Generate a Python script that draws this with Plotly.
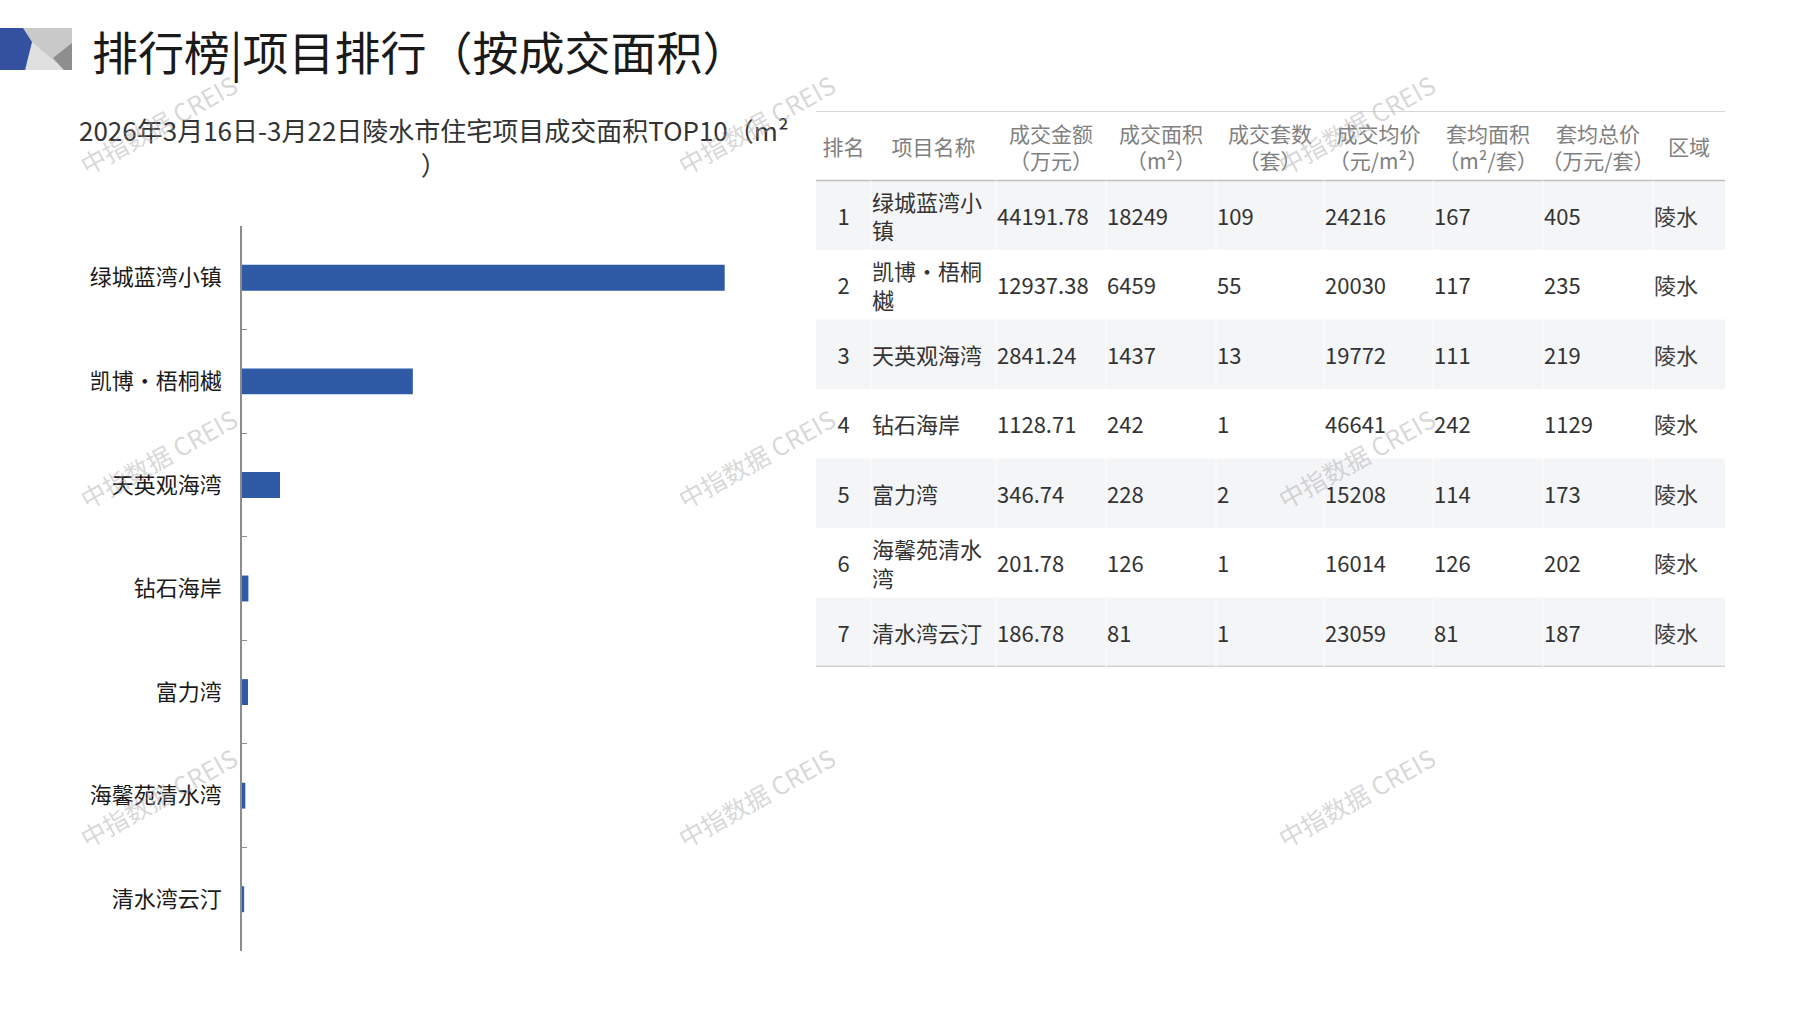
import plotly.graph_objects as go

# ---------------- data ----------------
ranks = [1, 2, 3, 4, 5, 6, 7]
names = ["绿城蓝湾小镇", "凯博•梧桐樾", "天英观海湾", "钻石海岸", "富力湾", "海馨苑清水湾", "清水湾云汀"]
amount = [44191.78, 12937.38, 2841.24, 1128.71, 346.74, 201.78, 186.78]   # 万元
area = [18249, 6459, 1437, 242, 228, 126, 81]                              # m²
units = [109, 55, 13, 1, 2, 1, 1]                                          # 套
avg_price = [24216, 20030, 19772, 46641, 15208, 16014, 23059]              # 元/m²
avg_area = [167, 117, 111, 242, 114, 126, 81]                              # m²/套
avg_total = [405, 235, 219, 1129, 173, 202, 187]                           # 万元/套
district = ["陵水", "陵水", "陵水", "陵水", "陵水", "陵水", "陵水"]
headers = ["排名", "项目名称", "成交金额<br>（万元）", "成交面积<br>（m²）", "成交套数<br>（套）",
           "成交均价<br>（元/m²）", "套均面积<br>（m²/套）", "套均总价<br>（万元/套）", "区域"]

page_title = "排行榜|项目排行（按成交面积）"
chart_title = "2026年3月16日-3月22日陵水市住宅项目成交面积TOP10（m²<br>）"
watermark = "中指数据 CREIS"

# ---------------- layout constants ----------------
W, H = 1797, 1010
FONT = "Noto Sans CJK SC"
BAR_COLOR = "#2f5aa6"
AXIS_COLOR = "#8c8c8c"
TEXT_DY = 0.06   # small downward nudge of table text within a row (row units)


def px(x):
    return x / W


def py(y):
    return 1 - y / H


col_widths = [55, 125, 110, 110, 108, 109, 110, 110, 72]
table_left, table_top, table_bottom = 816, 111, 667
col_edges = [0]
for w in col_widths:
    col_edges.append(col_edges[-1] + w)
table_total = col_edges[-1]
col_centers = [(col_edges[i] + col_edges[i + 1]) / 2 for i in range(len(col_widths))]
row_y = [r for r in ranks]  # row index (header at 0)


def wrap(s, n=5):
    return "<br>".join(s[i:i + n] for i in range(0, len(s), n))


fig = go.Figure()

# ---------------- bar chart ----------------
fig.add_trace(go.Bar(
    orientation="h", x=area, y=names, width=0.25,
    marker=dict(color=BAR_COLOR, line=dict(width=0)),
    xaxis="x", yaxis="y", hoverinfo="x+y", showlegend=False,
))

# ---------------- table ----------------
stripe_rows = [r for r in row_y if r % 2 == 1]
fig.add_trace(go.Bar(
    orientation="h", x=[table_total] * len(stripe_rows), y=stripe_rows, base=0, width=1,
    marker=dict(color="#f4f5f7", line=dict(width=0)),
    xaxis="x2", yaxis="y2", hoverinfo="skip", showlegend=False,
))

fig.add_trace(go.Scatter(
    x=col_centers, y=[TEXT_DY] * len(headers), text=headers, mode="text",
    textposition="middle center",
    textfont=dict(family=FONT, size=21, color="#808080"),
    xaxis="x2", yaxis="y2", hoverinfo="skip", showlegend=False,
))

body_font = dict(family=FONT, size=22, color="#333333")
columns = [
    ([str(r) for r in ranks], "center"),
    ([wrap(n) for n in names], "left"),
    ([f"{v:.2f}" for v in amount], "left"),
    ([str(v) for v in area], "left"),
    ([str(v) for v in units], "left"),
    ([str(v) for v in avg_price], "left"),
    ([str(v) for v in avg_area], "left"),
    ([str(v) for v in avg_total], "left"),
    (district, "left"),
]
for ci, (vals, align) in enumerate(columns):
    if align == "center":
        xs = [col_centers[ci]] * len(vals)
        pos = "middle center"
    else:
        xs = [col_edges[ci] + 1] * len(vals)
        pos = "middle right"
    fnt = dict(body_font)
    if ci == 8:
        fnt["color"] = "#404040"
    fig.add_trace(go.Scatter(
        x=xs, y=[r + TEXT_DY for r in row_y], text=vals, mode="text", textposition=pos,
        textfont=fnt, xaxis="x2", yaxis="y2", hoverinfo="skip", showlegend=False,
    ))

shapes = []
shapes.append(dict(type="line", xref="x2", yref="y2", x0=0, x1=table_total, y0=-0.5, y1=-0.5,
                   line=dict(color="#c8c8c8", width=1.5)))
shapes.append(dict(type="line", xref="x2", yref="y2", x0=0, x1=table_total, y0=0.5, y1=0.5,
                   line=dict(color="#c0c0c0", width=1.5)))
shapes.append(dict(type="line", xref="x2", yref="y2", x0=0, x1=table_total,
                   y0=len(ranks) + 0.5, y1=len(ranks) + 0.5,
                   line=dict(color="#d3d3d3", width=3)))
for e in col_edges[1:-1]:
    shapes.append(dict(type="line", xref="x2", yref="y2", x0=e, x1=e, y0=0.5, y1=len(ranks) + 0.5,
                       line=dict(color="rgba(255,255,255,0.9)", width=1)))


def poly(pts, color):
    path = "M " + " L ".join(f"{px(x):.5f},{py(y):.5f}" for x, y in pts) + " Z"
    return dict(type="path", xref="paper", yref="paper", path=path,
                fillcolor=color, line=dict(width=0))


shapes.append(poly([(22, 28), (72, 28), (72, 70), (22, 70)], "#c9c9c9"))
shapes.append(poly([(32, 42), (58, 64), (63, 70), (25, 70)], "#e0e0e0"))
shapes.append(poly([(72, 43), (53, 58), (64, 70), (72, 70)], "#8e8e8e"))
shapes.append(poly([(0, 28), (23, 28), (32, 42), (25, 70), (0, 70)], "#3451a0"))

annotations = []
annotations.append(dict(text=page_title, xref="paper", yref="paper", x=px(90), y=py(50),
                        xanchor="left", yanchor="middle", showarrow=False,
                        font=dict(family=FONT, size=46, color="#1a1a1a")))
annotations.append(dict(text=chart_title, xref="paper", yref="paper", x=px(434), y=py(146),
                        xanchor="center", yanchor="middle", showarrow=False, align="center",
                        font=dict(family=FONT, size=26, color="#333333")))
for wx in (158, 756, 1356):
    for wy in (124, 458, 797):
        annotations.append(dict(text=watermark, xref="paper", yref="paper", x=px(wx), y=py(wy),
                                xanchor="center", yanchor="middle", showarrow=False, textangle=-29,
                                font=dict(family=FONT, size=25, color="rgba(160,160,160,0.42)")))

fig.update_layout(
    width=W, height=H, margin=dict(l=0, r=0, t=0, b=0),
    paper_bgcolor="white", plot_bgcolor="rgba(0,0,0,0)",
    showlegend=False, barmode="overlay",
    xaxis=dict(domain=[px(242), px(771)], range=[0, 20000], visible=False, anchor="y"),
    yaxis=dict(domain=[py(951), py(226)], type="category", categoryorder="array",
               categoryarray=names, range=[len(names) - 0.5, -0.5],
               showline=True, linecolor=AXIS_COLOR, linewidth=1.5,
               ticks="inside", tickson="boundaries", ticklen=5, tickcolor=AXIS_COLOR, tickwidth=1.2,
               showgrid=False, zeroline=False, ticklabelstandoff=14,
               tickfont=dict(family=FONT, size=22, color="#1a1a1a"), anchor="x"),
    xaxis2=dict(domain=[px(table_left), px(table_left + table_total)], range=[0, table_total],
                visible=False, anchor="y2"),
    yaxis2=dict(domain=[py(table_bottom), py(table_top)], range=[len(ranks) + 0.5, -0.5],
                visible=False, anchor="x2"),
    shapes=shapes, annotations=annotations,
)

fig.write_html("out.html", config={"displayModeBar": False},
               post_script="document.body.style.margin='0px';")
